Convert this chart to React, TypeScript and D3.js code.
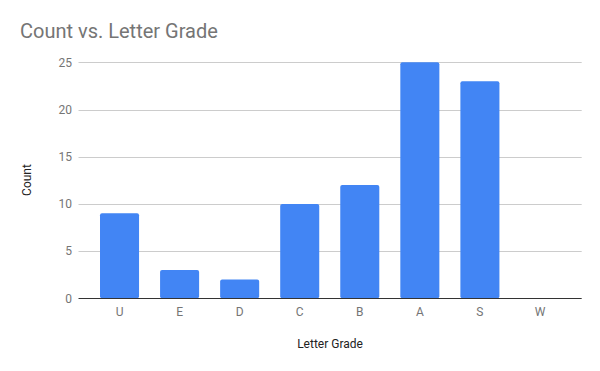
import React from "react";
import * as d3 from "d3";

const categories = ["U", "E", "D", "C", "B", "A", "S", "W"];
const counts = [9, 3, 2, 10, 12, 25, 23, 0];
const yTicks = [0, 5, 10, 15, 20, 25];

const W = 600;
const H = 371;

export default function App() {
  const x = d3.scaleBand<string>().domain(categories).range([89.5, 570]).paddingInner(0.35).paddingOuter(0.175);
  const y = d3.scaleLinear().domain([0, 25]).range([298.3, 62.3]);
  const font = "Roboto, sans-serif";
  return (
    <svg width={W} height={H} style={{ position: "absolute", left: 0, top: 0 }}>
      <rect width={W} height={H} fill="#fff" />
      <text x={20} y={38} fontFamily={font} fontSize={20} fill="#757575">Count vs. Letter Grade</text>
      {yTicks.map((t) => (
        <g key={t}>
          {t !== 0 && <line x1={78.5} x2={581.7} y1={Math.round(y(t)) + 0.5} y2={Math.round(y(t)) + 0.5} stroke="#ccc" strokeWidth={1} />}
          <text x={72} y={y(t)} dy="0.35em" textAnchor="end" fontFamily={font} fontSize={12} fill="#757575">{t}</text>
        </g>
      ))}
      {categories.map((c, i) => {
        const v = counts[i];
        if (v <= 0) return null;
        return <rect key={c} x={x(c)} y={y(v)} width={x.bandwidth()} height={y(0) - y(v)} rx={2} fill="#4285F4" />;
      })}
      <line x1={78.5} x2={581.7} y1={298.5} y2={298.5} stroke="#333" strokeWidth={1} />
      {categories.map((c) => (
        <text key={c} x={(x(c) as number) + x.bandwidth() / 2} y={312} dy="0.35em" textAnchor="middle" fontFamily={font} fontSize={12} fill="#757575">{c}</text>
      ))}
      <text x={330} y={344} dy="0.35em" textAnchor="middle" fontFamily={font} fontSize={12} fill="#222">Letter Grade</text>
      <text transform="translate(27,180) rotate(-90)" dy="0.35em" textAnchor="middle" fontFamily={font} fontSize={12} fill="#222">Count</text>
    </svg>
  );
}
